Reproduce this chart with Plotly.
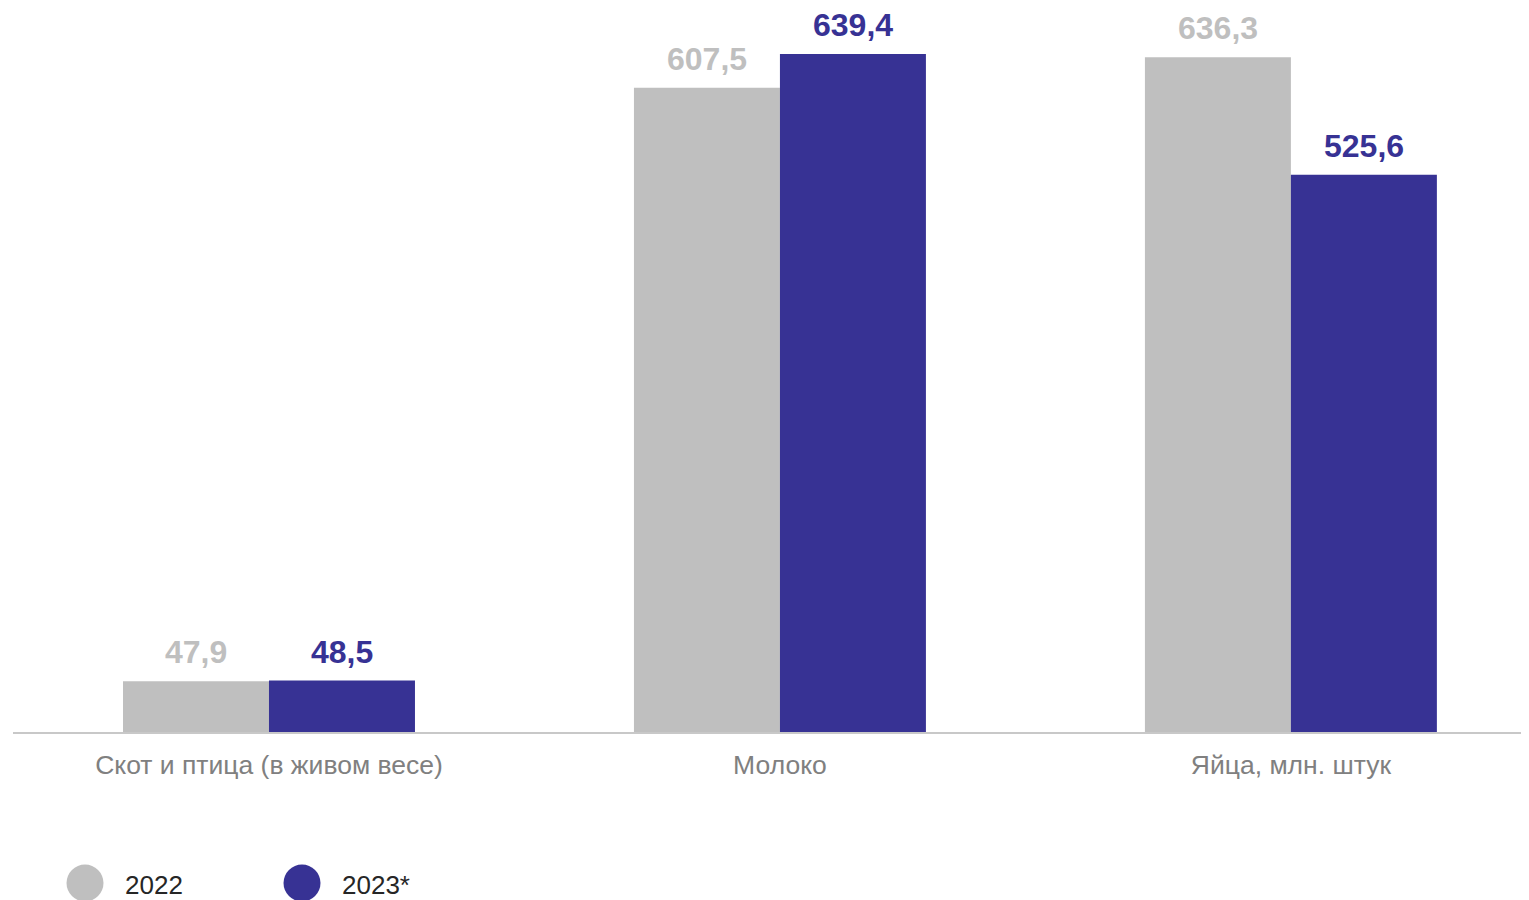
import plotly.graph_objects as go

categories = ["Скот и птица (в живом весе)", "Молоко", "Яйца, млн. штук"]
series_names = ["2022", "2023*"]
values_2022 = [47.9, 607.5, 636.3]
values_2023 = [48.5, 639.4, 525.6]

colors = ["#bfbfbf", "#373294"]

fig = go.Figure()
for name, vals, col in zip(series_names, [values_2022, values_2023], colors):
    fig.add_trace(go.Bar(x=categories, y=vals, name=name, marker_color=col,
                         marker_line_width=0, showlegend=False))

# value labels
for i, (vals, col) in enumerate(zip([values_2022, values_2023], colors)):
    shift = -73 if i == 0 else 73
    for c, v in zip(categories, vals):
        fig.add_annotation(x=c, y=v, xshift=shift, yshift=9, yanchor="bottom",
                           text="<b>" + f"{v:.1f}".replace(".", ",") + "</b>",
                           showarrow=False,
                           font=dict(family="Arial, Liberation Sans", size=32, color=col))

# legend (manual); page is offset by 8px body margin
OFF = 8
W, L, H = 1516, 5, 724
for i, (name, col) in enumerate(zip(series_names, colors)):
    cx = [85, 302][i] - OFF
    tx = [123, 340][i] - OFF
    cy = 883 - OFF
    fig.add_shape(type="circle", xref="paper", yref="paper", xsizemode="pixel", ysizemode="pixel",
                  xanchor=(cx - L) / W, yanchor=(H - cy) / H,
                  x0=-18.5, x1=18.5, y0=-18.5, y1=18.5,
                  fillcolor=col, line_width=0)
    fig.add_annotation(xref="paper", yref="paper", x=(tx - L) / W, y=(H - (885 - OFF)) / H,
                       xanchor="left", yanchor="middle", text=name, showarrow=False,
                       font=dict(family="Arial, Liberation Sans", size=26, color="#262626"))

fig.update_layout(
    width=1521, height=892,
    margin=dict(l=5, r=0, t=0, b=168),
    paper_bgcolor="white", plot_bgcolor="white",
    barmode="group", bargap=0.4286, bargroupgap=0,
    showlegend=False,
    font=dict(family="Arial, Liberation Sans"),
)
fig.update_xaxes(range=[-0.501, 2.466], showline=True, linecolor="#c8c8c8", linewidth=1.5,
                 ticks="outside", ticklen=8, tickcolor="rgba(0,0,0,0)",
                 tickfont=dict(size=26.5, color="#808080"), showgrid=False, zeroline=False)
fig.update_yaxes(range=[0, 682.8], visible=False, showgrid=False, zeroline=False)

fig.write_html("out.html")
